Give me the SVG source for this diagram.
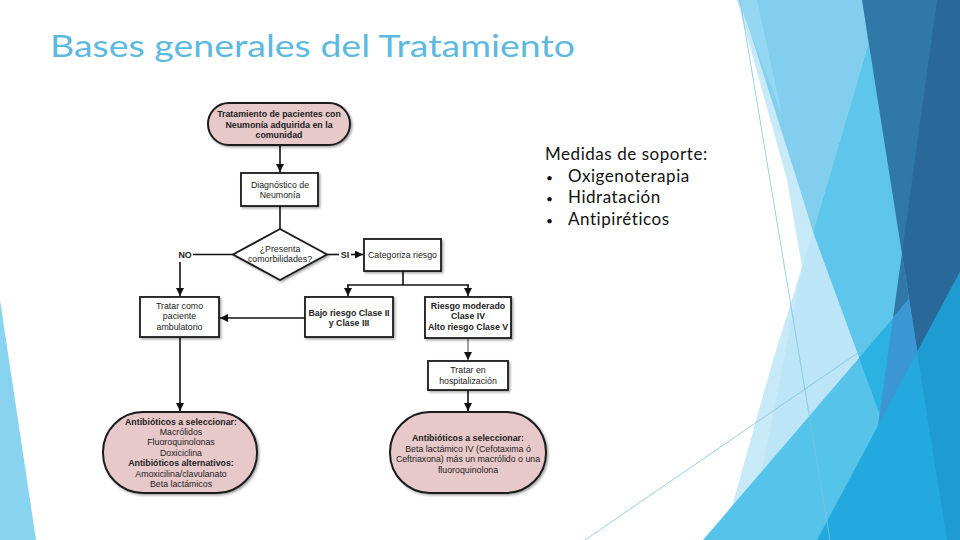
<svg xmlns="http://www.w3.org/2000/svg" width="960" height="540" viewBox="0 0 960 540">
<defs>
<style>
.t{font-family:"Liberation Sans",Arial,sans-serif;font-size:8.8px;fill:#222;text-anchor:middle}
.b{font-weight:bold}
.box{fill:#fff;stroke:#1a1a1a;stroke-width:1.8}
.term{fill:#e8c9ca;stroke:#1a1a1a;stroke-width:2}
.c{stroke:#111;stroke-width:1.6;fill:none}
</style>
<marker id="ah" viewBox="0 0 10 10" refX="10" refY="5" markerWidth="8" markerHeight="8" markerUnits="userSpaceOnUse" orient="auto"><path d="M0,0 L10,5 L0,10 z" fill="#111"/></marker>
<filter id="sh" x="-10%" y="-10%" width="130%" height="130%"><feDropShadow dx="1.5" dy="1.5" stdDeviation="1" flood-color="#000" flood-opacity="0.35"/></filter>
</defs>
<rect width="960" height="540" fill="#fff"/>
<g id="decor">
<polygon points="0,300 36,540 0,540" fill="#88d3ef"/>
<polygon points="737,0 960,0 960,540 722,540 733,503 773,360 802,267 787,180" fill="#c8eaf8"/>
<polygon points="813,232 859,358 760,480 802,267" fill="#bce6f7"/>
<polygon points="740,0 862,0 868,45 813,232 797,180" fill="#81ceee"/>
<polygon points="738,0 757,0 782,115" fill="#95d7f2"/>
<polygon points="862,0 960,0 960,540 926,540 813,232 868,45" fill="#5ec6eb"/>
<polygon points="703,540 960,240 960,540" fill="#55c3ea"/>
<polygon points="859,358 960,240 960,540 926,540" fill="#2cb1e3"/>
<polygon points="862,0 960,0 960,540 947,540" fill="#3078a8"/>
<polygon points="937,0 960,0 960,540 947,540 902,253" fill="#28699a"/>
<polygon points="902,253 909,299 893,318" fill="#3078a8"/>
<polygon points="893,318 909,299 947,540 862,540" fill="#3a97d3"/>
<polygon points="817,540 960,272 960,540" fill="#23a9de"/>
<polygon points="917,352 960,272 960,540 947,540" fill="#1e9bd0"/>
<line x1="740" y1="0" x2="830" y2="540" stroke="#7cc4df" stroke-width="0.8"/>
<line x1="585" y1="540" x2="862" y2="350" stroke="#7cc4df" stroke-width="0.8"/>
</g>
<text x="50" y="57" font-family="Lato, 'Open Sans', sans-serif" font-size="31" fill="#5db9e0" textLength="525" lengthAdjust="spacingAndGlyphs">Bases generales del Tratamiento</text>
<g id="soporte" font-family="Lato, 'Open Sans', sans-serif" font-size="17" fill="#111" letter-spacing="0.55">
<text x="545" y="160">Medidas de soporte:</text>
<text x="546" y="181.5" font-size="12">•</text><text x="568" y="181.5">Oxigenoterapia</text>
<text x="546" y="203" font-size="12">•</text><text x="568" y="203">Hidratación</text>
<text x="546" y="224.5" font-size="12">•</text><text x="568" y="224.5">Antipiréticos</text>
</g>
<g id="connectors">
<line class="c" x1="280" y1="145" x2="280" y2="172" marker-end="url(#ah)"/>
<line class="c" x1="280" y1="206" x2="280" y2="229"/>
<line class="c" x1="233" y1="254.5" x2="193" y2="254.5"/>
<line class="c" x1="180" y1="262" x2="180" y2="296" marker-end="url(#ah)"/>
<line class="c" x1="327" y1="254.5" x2="339" y2="254.5"/>
<line class="c" x1="351" y1="254.5" x2="363" y2="254.5" marker-end="url(#ah)"/>
<polyline class="c" points="403,271 403,285"/>
<line class="c" x1="347" y1="285" x2="469" y2="285"/>
<line class="c" x1="348" y1="285" x2="348" y2="296" marker-end="url(#ah)"/>
<line class="c" x1="468" y1="285" x2="468" y2="296" marker-end="url(#ah)"/>
<line class="c" x1="305" y1="318" x2="220" y2="318" marker-end="url(#ah)"/>
<line x1="468" y1="338" x2="468" y2="360" stroke="#555" stroke-width="1.1" marker-end="url(#ah)"/>
<line class="c" x1="180" y1="337" x2="180" y2="411" marker-end="url(#ah)"/>
<line class="c" x1="468" y1="390" x2="468" y2="411" marker-end="url(#ah)"/>
<text class="t b" x="185" y="257.5">NO</text>
<text class="t b" x="345" y="257.5">SI</text>
</g>
<g id="n_inicio">
<rect class="term" x="208" y="103" width="142" height="42" rx="21" ry="21" filter="url(#sh)"/>
<text class="t b" x="279" y="117">Tratamiento de pacientes con</text>
<text class="t b" x="279" y="127.5">Neumonía adquirida en la</text>
<text class="t b" x="279" y="138">comunidad</text>
</g>
<g id="n_diag">
<rect class="box" x="241" y="173" width="77" height="33" filter="url(#sh)"/>
<text class="t" x="280" y="187.5">Diagnóstico de</text>
<text class="t" x="280" y="197.5">Neumonía</text>
</g>
<g id="n_comorb">
<polygon class="box" points="280,229 327,254.5 280,280 233,254.5" filter="url(#sh)"/>
<text class="t" x="280" y="251.5">¿Presenta</text>
<text class="t" x="280" y="262">comorbilidades?</text>
</g>
<g id="n_categ">
<rect class="box" x="364" y="239" width="77" height="32" filter="url(#sh)"/>
<text class="t" x="402.5" y="258">Categoriza riesgo</text>
</g>
<g id="n_ambul">
<rect class="box" x="140" y="297" width="79" height="40" filter="url(#sh)"/>
<text class="t" x="179.5" y="309">Tratar como</text>
<text class="t" x="179.5" y="319">paciente</text>
<text class="t" x="179.5" y="329.5">ambulatorio</text>
</g>
<g id="n_bajo">
<rect class="box" x="305" y="297" width="88" height="40" filter="url(#sh)"/>
<text class="t b" x="349" y="315.5">Bajo riesgo Clase II</text>
<text class="t b" x="349" y="326">y Clase III</text>
</g>
<g id="n_riesgo">
<rect class="box" x="425" y="297" width="86" height="41" filter="url(#sh)"/>
<text class="t b" x="468" y="309">Riesgo moderado</text>
<text class="t b" x="468" y="319">Clase IV</text>
<text class="t b" x="468" y="329.5">Alto riesgo Clase V</text>
</g>
<g id="n_hosp">
<rect class="box" x="428" y="361" width="80" height="29" filter="url(#sh)"/>
<text class="t" x="468" y="373">Tratar en</text>
<text class="t" x="468" y="383.5">hospitalización</text>
</g>
<g id="n_ab_ambul">
<rect class="term" x="103" y="412" width="154" height="81" rx="40" ry="40" filter="url(#sh)"/>
<text class="t b" x="181" y="425">Antibióticos a seleccionar:</text>
<text class="t" x="181" y="435">Macrólidos</text>
<text class="t" x="181" y="445">Fluoroquinolonas</text>
<text class="t" x="181" y="455.5">Doxiciclina</text>
<text class="t b" x="181" y="466">Antibióticos alternativos:</text>
<text class="t" x="181" y="476.5">Amoxicilina/clavulanato</text>
<text class="t" x="181" y="487">Beta lactámicos</text>
</g>
<g id="n_ab_hosp">
<rect class="term" x="390" y="412" width="156" height="81" rx="40" ry="40" filter="url(#sh)"/>
<text class="t b" x="468" y="441">Antibióticos a seleccionar:</text>
<text class="t" x="468" y="451.5">Beta lactámico IV (Cefotaxima ó</text>
<text class="t" x="468" y="462">Ceftriaxona) más un macrólido o una</text>
<text class="t" x="468" y="472.5">fluoroquinolona</text>
</g>
</svg>
